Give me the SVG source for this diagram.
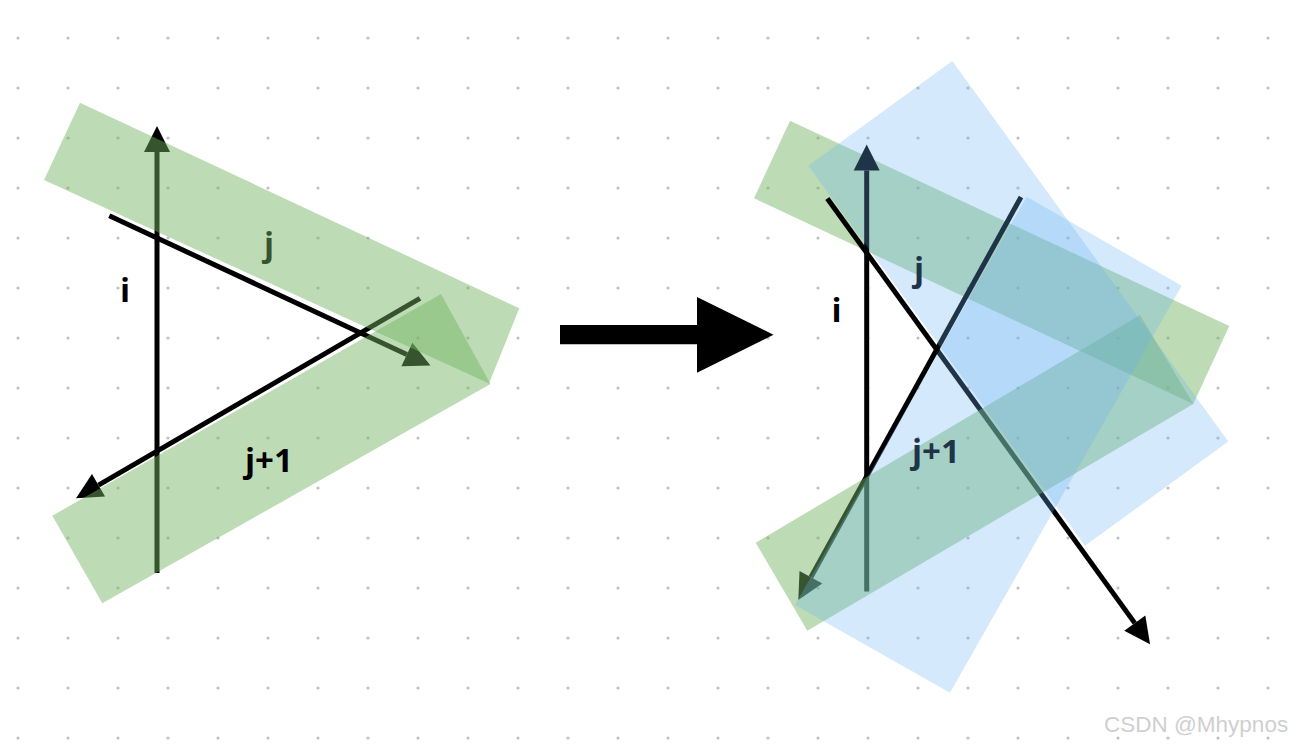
<svg xmlns="http://www.w3.org/2000/svg" width="1294" height="746" viewBox="0 0 1294 746">
  <style>
    .ln { stroke: #000; stroke-width: 5; fill: none; }
    .arr { marker-end: url(#ah); }
    .green { fill: rgb(115,181,98); fill-opacity: 0.47; }
    .blue { fill: rgb(107,179,241); fill-opacity: 0.29; }
    .lbl { font-family: "Open Sans", "Noto Sans", "DejaVu Sans", sans-serif; font-weight: bold; font-size: 33px; fill: #000; }
    .wm { font-family: "Liberation Sans", Arial, sans-serif; font-size: 22.5px; fill: #cfcfcf; }
  </style>
  <defs>
    <pattern id="dots" patternUnits="userSpaceOnUse" x="-7" y="13" width="50" height="50">
      <circle cx="25" cy="25" r="1.6" fill="#c0c0c0"/>
    </pattern>
    <marker id="ah" markerUnits="userSpaceOnUse" markerWidth="26" markerHeight="26" refX="0" refY="13" orient="auto" overflow="visible">
      <path d="M0,0 L26,13 L0,26 Z" fill="#000"/>
    </marker>
  </defs>

  <rect width="1294" height="746" fill="#fff"/>
  <rect width="1294" height="746" fill="url(#dots)"/>

  <!-- Left figure -->
  <g id="left-figure">
    <g id="left-connectors">
      <line class="ln arr" x1="157" y1="573" x2="157" y2="152"/>
      <line class="ln arr" x1="109.3" y1="215.7" x2="406.9" y2="354.5"/>
      <line class="ln arr" x1="420" y1="298.3" x2="98.5" y2="485.2"/>
    </g>
    <text id="left-label-j" class="lbl" x="264" y="256">j</text>
    <g id="left-band-j">
      <polygon class="green" points="80,102.7 519.3,308.3 489,383.5 44,180"/>
    </g>
    <g id="left-band-j1">
      <polygon class="green" points="52.3,515.7 441,294 490.5,384 102.3,603.3"/>
    </g>
    <text id="left-label-i" class="lbl" x="120" y="302">i</text>
    <text id="left-label-j1" class="lbl" x="245" y="472">j+1</text>
  </g>

  <!-- Middle arrow -->
  <g id="transform-arrow">
    <polygon points="560,325 697,325 697,297 773.5,334.7 697,372.7 697,344.3 560,344.3" fill="#000"/>
  </g>

  <!-- Right figure -->
  <g id="right-figure">
    <g id="right-band-j-green">
      <polygon class="green" points="790,120.7 1229.3,326 1193.3,404 754,198.3"/>
    </g>
    <g id="right-connectors">
      <line class="ln arr" x1="866.7" y1="591.5" x2="866.7" y2="170.6"/>
      <line class="ln arr" x1="827.3" y1="198.5" x2="1134.8" y2="623.1"/>
      <line class="ln arr" x1="1021" y1="197" x2="810.9" y2="577.2"/>
    </g>
    <text id="right-label-i" class="lbl" x="831.5" y="322">i</text>
    <text id="right-label-j" class="lbl" x="914" y="281">j</text>
    <g id="right-band-j1-green">
      <polygon class="green" points="755.7,542.7 1140,315 1193.3,404 807.3,630.7"/>
    </g>
    <text id="right-label-j1" class="lbl" x="912" y="463">j+1</text>
    <g id="right-band-j-blue">
      <polygon class="blue" points="952.3,61 1228.3,441.5 1085,545.8 808.3,165.7"/>
    </g>
    <g id="right-band-j1-blue">
      <polygon class="blue" points="1026.7,196.7 1181.7,285.7 950,692.7 795,605"/>
    </g>
  </g>

  <text id="watermark" class="wm" x="1104" y="732">CSDN @Mhypnos</text>
</svg>
